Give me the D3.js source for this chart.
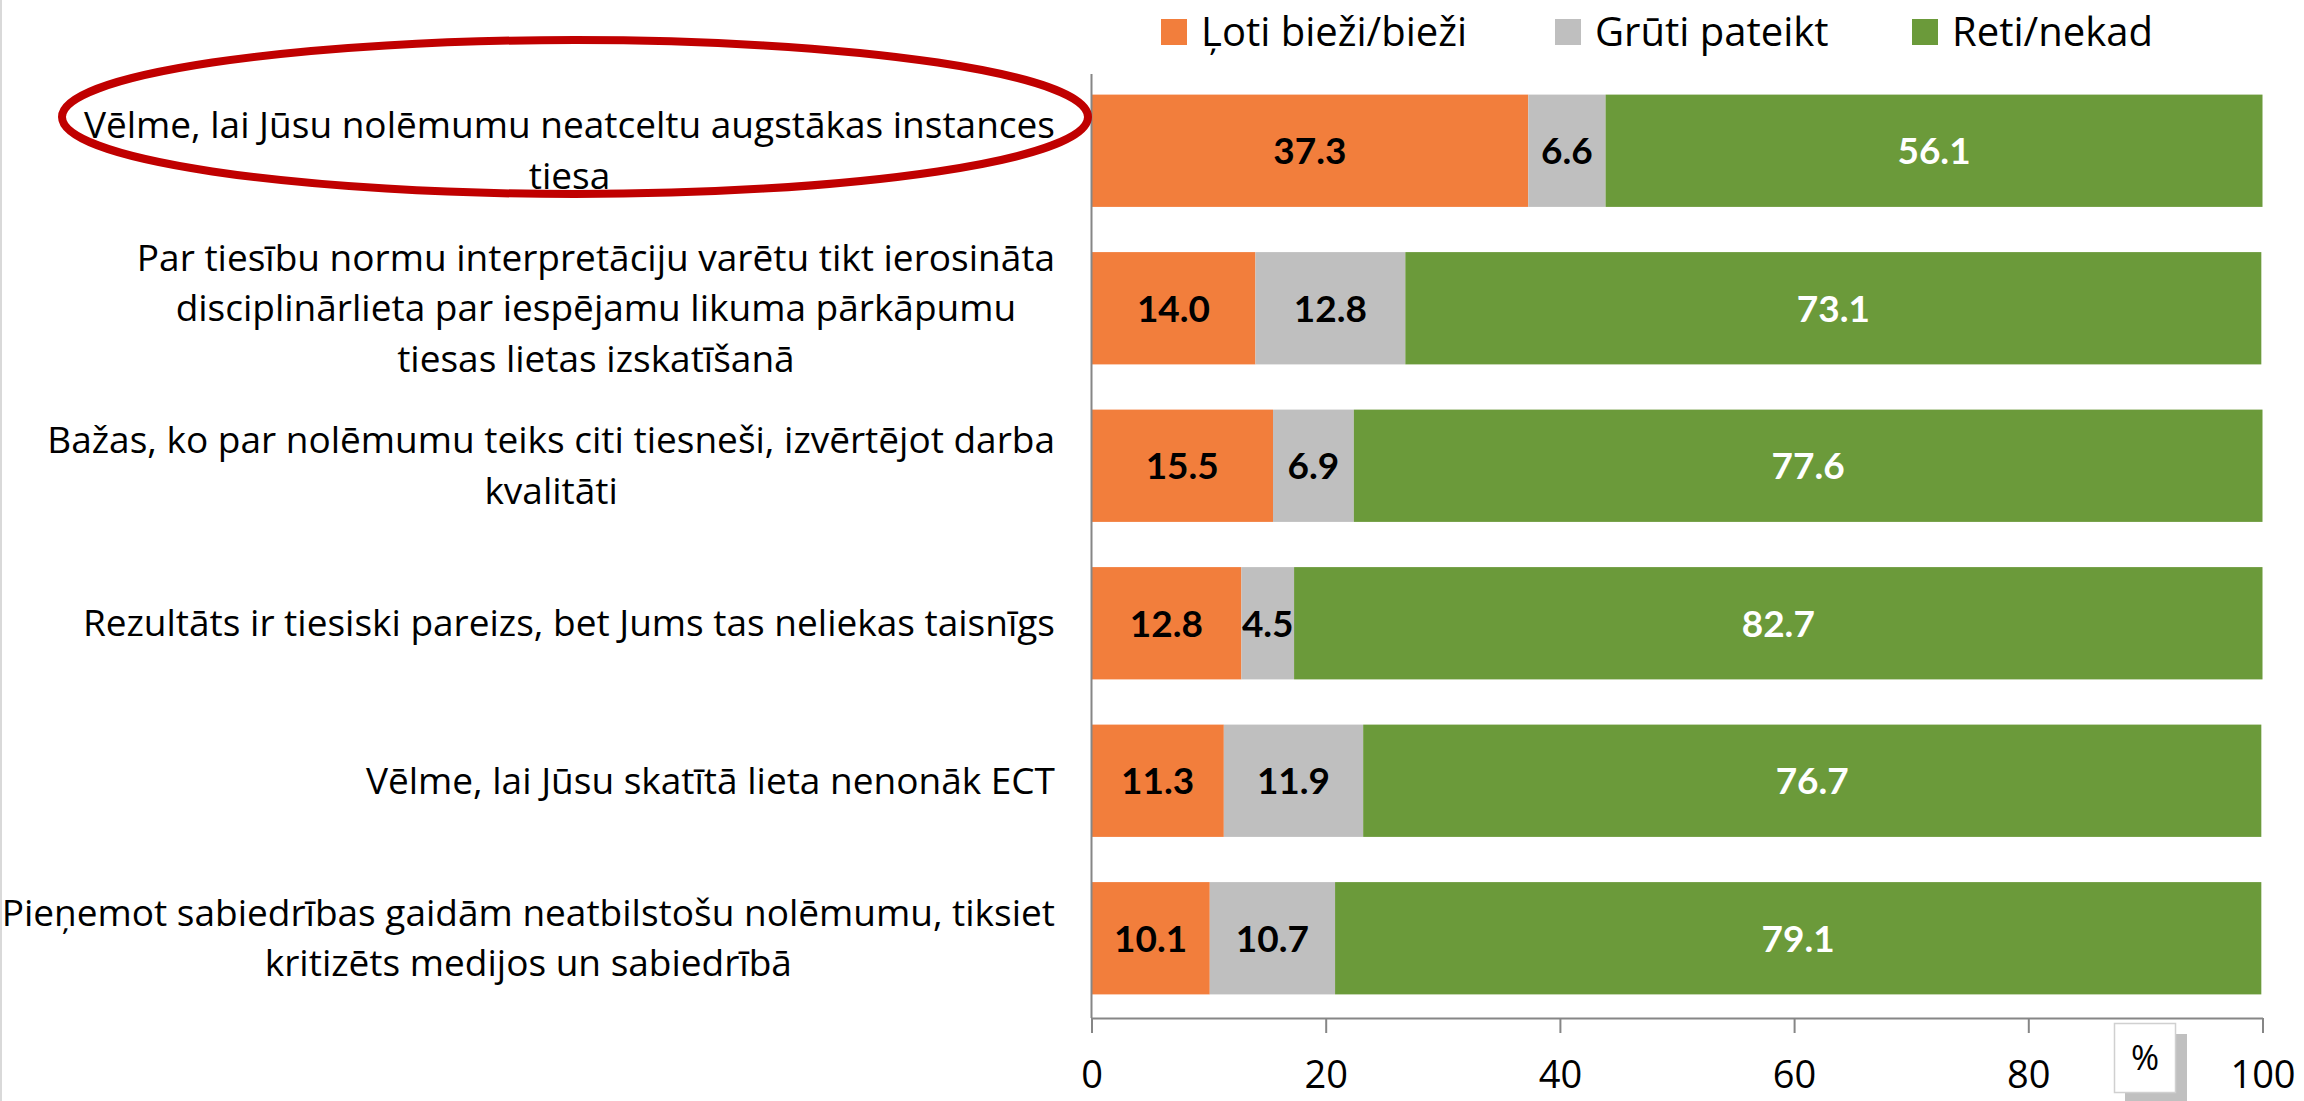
<!DOCTYPE html>
<meta charset="utf-8">
<script src="https://d3js.org/d3.v7.min.js"></script>
<style>
body { margin: 0; background: #fff; }
text { font-family: "Open Sans", Lato, sans-serif; }
</style>
<div id="chart"></div>
<script>

// category labels, already broken into lines like in the picture
var categories = [
  ["Vēlme, lai Jūsu nolēmumu neatceltu augstākas instances", "tiesa"],
  ["Par tiesību normu interpretāciju varētu tikt ierosināta", "disciplinārlieta par iespējamu likuma pārkāpumu", "tiesas lietas izskatīšanā"],
  ["Bažas, ko par nolēmumu teiks citi tiesneši, izvērtējot darba", "kvalitāti"],
  ["Rezultāts ir tiesiski pareizs, bet Jums tas neliekas taisnīgs"],
  ["Vēlme, lai Jūsu skatītā lieta nenonāk ECT"],
  ["Pieņemot sabiedrības gaidām neatbilstošu nolēmumu, tiksiet", "kritizēts medijos un sabiedrībā"]
];
var seriesNames = ["Ļoti bieži/bieži", "Grūti pateikt", "Reti/nekad"];
var often  = [37.3, 14.0, 15.5, 12.8, 11.3, 10.1];
var unsure = [6.6, 12.8, 6.9, 4.5, 11.9, 10.7];
var rarely = [56.1, 73.1, 77.6, 82.7, 76.7, 79.1];
var xTicks = [0, 20, 40, 60, 80, 100];

var colors = ["#F27E3C", "#BFBFBF", "#6B9A3A"];
var labelColors = ["#000", "#000", "#fff"];

var width = 2304, height = 1101;

var svg = d3.select("#chart").append("svg")
  .attr("width", width)
  .attr("height", height);

// faint frame line on the left
svg.append("line")
  .attr("x1", 1).attr("x2", 1).attr("y1", 0).attr("y2", height)
  .attr("stroke", "#d9d9d9").attr("stroke-width", 2);

// build table for the stack
var keys = ["often", "unsure", "rarely"];
var table = categories.map(function(c, i) {
  return {idx: i, often: often[i], unsure: unsure[i], rarely: rarely[i]};
});
var stacked = d3.stack().keys(keys)(table);

var x = d3.scaleLinear().domain([0, 100]).range([1091.5, 2262.5]);
var y = d3.scaleBand()
  .domain(d3.range(categories.length))
  .range([72, 1017])
  .paddingInner(0.287)
  .paddingOuter(0.1435);

// bars
var layers = svg.append("g").selectAll("g")
  .data(stacked)
  .enter().append("g")
    .attr("fill", function(d, i) { return colors[i]; });

layers.selectAll("rect")
  .data(function(d) { return d; })
  .enter().append("rect")
    .attr("x", function(d) { return x(d[0]); })
    .attr("y", function(d) { return y(d.data.idx); })
    .attr("width", function(d) { return x(d[1]) - x(d[0]); })
    .attr("height", y.bandwidth());

// value labels
stacked.forEach(function(layer, li) {
  svg.append("g").selectAll("text")
    .data(layer)
    .enter().append("text")
      .attr("x", function(d) { return (x(d[0]) + x(d[1])) / 2; })
      .attr("y", function(d) { return y(d.data.idx) + y.bandwidth() / 2; })
      .attr("dy", "0.36em")
      .attr("text-anchor", "middle")
      .style("font-family", "Lato, sans-serif")
      .style("font-size", "37px")
      .style("font-weight", "bold")
      .attr("fill", labelColors[li])
      .text(function(d) { return (d[1] - d[0]).toFixed(1); });
});

// x axis
var xAxis = svg.append("g")
  .attr("transform", "translate(0,1018)")
  .call(d3.axisBottom(x).tickValues(xTicks).tickSize(15).tickSizeOuter(0).tickPadding(28));
xAxis.select(".domain").attr("stroke", "#868686").attr("stroke-width", 2);
xAxis.selectAll(".tick line").attr("stroke", "#868686").attr("stroke-width", 2);
xAxis.selectAll(".tick text")
  .style("font-family", "'Open Sans', sans-serif")
  .style("font-size", "38px")
  .attr("fill", "#000");

// y axis line (no ticks, labels drawn separately)
var yAxis = svg.append("g")
  .attr("transform", "translate(1091.5,0)")
  .call(d3.axisLeft(y).tickSize(0).tickFormat(""));
yAxis.select(".domain").attr("d", "M0,74V1018").attr("stroke", "#868686").attr("stroke-width", 2);

// category labels: lines centered on each other, block right-aligned
var labelRight = 1055, lineH = 50.5;
categories.forEach(function(lines, i) {
  var g = svg.append("g");
  var yc = y(i) + y.bandwidth() / 2;
  var texts = lines.map(function(line, j) {
    return g.append("text")
      .attr("y", yc + (j - (lines.length - 1) / 2) * lineH)
      .attr("dy", "0.35em")
      .attr("text-anchor", "middle")
      .style("font-size", "37px")
      .attr("fill", "#000")
      .text(line);
  });
  var maxW = d3.max(texts, function(t) { return t.node().getComputedTextLength(); });
  texts.forEach(function(t) { t.attr("x", labelRight - maxW / 2); });
});

// red ellipse around first category
svg.append("ellipse")
  .attr("cx", 575).attr("cy", 117)
  .attr("rx", 513).attr("ry", 77)
  .attr("fill", "none")
  .attr("stroke", "#C00000")
  .attr("stroke-width", 8);

// legend
var legendX = [1161, 1555, 1912];
var legend = svg.append("g").selectAll("g")
  .data(seriesNames)
  .enter().append("g")
    .attr("transform", function(d, i) { return "translate(" + legendX[i] + ",32)"; });
legend.append("rect")
  .attr("x", 0).attr("y", -13)
  .attr("width", 26).attr("height", 26)
  .attr("fill", function(d, i) { return colors[i]; });
legend.append("text")
  .attr("x", 40)
  .attr("dy", "0.35em")
  .style("font-size", "40px")
  .attr("fill", "#000")
  .text(function(d) { return d; });

// "%" unit box with shadow
svg.append("rect")
  .attr("x", 2125).attr("y", 1034).attr("width", 62).attr("height", 70)
  .attr("fill", "#c0c0c0");
svg.append("rect")
  .attr("x", 2114.5).attr("y", 1023.5).attr("width", 61).attr("height", 69)
  .attr("fill", "#fff").attr("stroke", "#d0d0d0").attr("stroke-width", 1.5);
svg.append("text")
  .attr("x", 2145).attr("y", 1058)
  .attr("dy", "0.35em")
  .attr("text-anchor", "middle")
  .style("font-size", "34px")
  .text("%");

</script>
